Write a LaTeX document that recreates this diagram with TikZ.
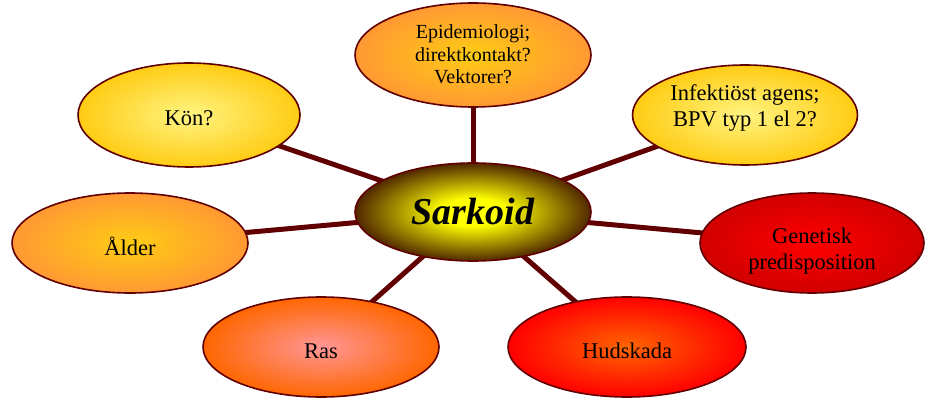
\documentclass[tikz,border=0pt]{standalone}
\usepackage{fontspec}
\setmainfont{Liberation Serif}
\usetikzlibrary{shapes.geometric, positioning, backgrounds}

\definecolor{edgered}{RGB}{96,0,0}
\definecolor{goldyellow}{RGB}{255,204,20}
\definecolor{paleyellow}{RGB}{255,244,130}
\definecolor{softorange}{RGB}{255,153,51}
\definecolor{darkbrown}{RGB}{80,40,0}
\definecolor{pinkred}{RGB}{255,150,150}
\definecolor{hotorange}{RGB}{255,102,0}
\pgfdeclareradialshading{coreglow}{\pgfpointorigin}{color(0bp)=(yellow); color(7bp)=(yellow); color(25bp)=(darkbrown); color(50bp)=(darkbrown)}

\begin{document}
\begin{tikzpicture}[x=1pt, y=1pt,
        bubble/.style={draw=edgered, line width=1.6pt, ellipse, inner sep=0pt, minimum width=236pt, minimum height=100pt, align=center},
        leaf/.style={bubble, font=\fontsize{22.5}{26}\selectfont, text height=22pt, text depth=0pt},
        link/.style={draw=edgered, line width=5pt}
    ]
        \useasboundingbox (0,0) rectangle (925,-398);
        \node[bubble, minimum height=98pt, shading=coreglow, font=\fontsize{38}{40}\selectfont\bfseries\itshape] (sarkoid) at (473,-212) {Sarkoid};
        \node[leaf, on grid, above=157pt of sarkoid, minimum height=104pt, inner color=goldyellow, outer color=softorange, font=\fontsize{20}{22.5}\selectfont, text height=58pt] (epi) {Epidemiologi;\\direktkontakt?\\Vektorer?};
        \node[leaf, on grid, above left=97pt and 284pt of sarkoid, minimum width=222pt, minimum height=104pt, inner color=paleyellow, outer color=goldyellow] (kon) {Kön?};
        \node[leaf, on grid, above right=97pt and 272pt of sarkoid, minimum width=225pt, inner color=paleyellow, outer color=goldyellow, text height=24pt] (agens) {Infektiöst agens;\\BPV typ 1 el 2?};
        \node[leaf, on grid, below left=31pt and 343pt of sarkoid, inner color=goldyellow, outer color=softorange, text height=24pt] (alder) {Ålder};
        \node[leaf, on grid, below right=31pt and 339pt of sarkoid, minimum width=224pt, inner color=red, outer color=red!82!black, text height=52pt] (genetik) {Genetisk\\predisposition};
        \node[leaf, on grid, below left=135pt and 152pt of sarkoid, inner color=pinkred, outer color=hotorange] (ras) {Ras};
        \node[leaf, on grid, below right=135pt and 154pt of sarkoid, minimum width=238pt, inner color=hotorange, outer color=red] (hud) {Hudskada};
        % spokes behind the bubbles
        \begin{scope}[on background layer]
            \foreach \n in {epi, kon, agens, alder, genetik, ras, hud}
                \draw[link] (sarkoid.center) -- (\n.center);
        \end{scope}
    \end{tikzpicture}
\end{document}
